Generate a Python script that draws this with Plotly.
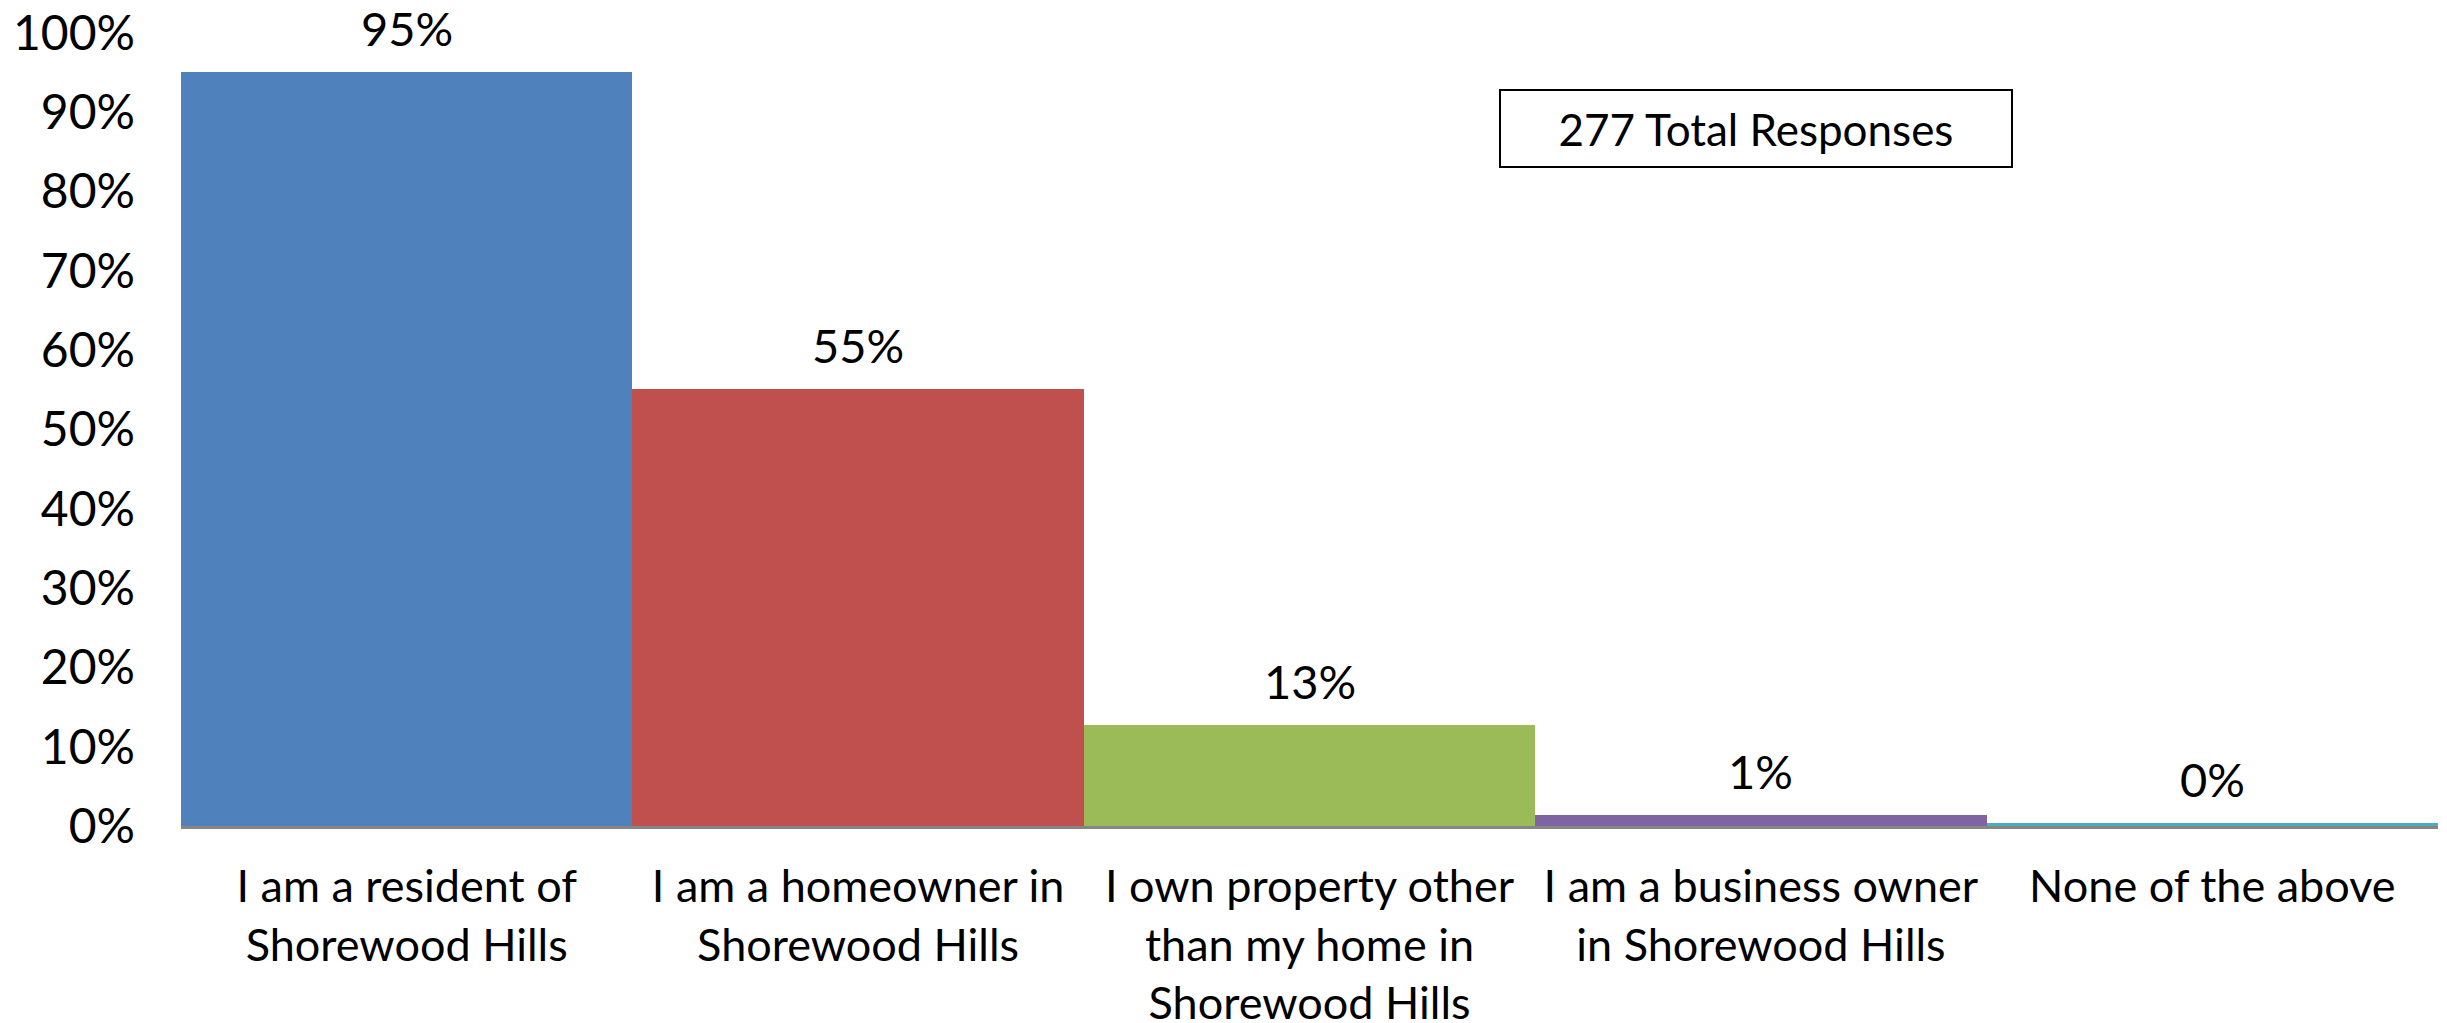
import plotly.graph_objects as go

# Survey: relationship of respondents to Shorewood Hills (share of 277 responses)
categories = [
    "I am a resident of<br>Shorewood Hills",
    "I am a homeowner in<br>Shorewood Hills",
    "I own property other<br>than my home in<br>Shorewood Hills",
    "I am a business owner<br>in Shorewood Hills",
    "None of the above",
]
shares = [0.951, 0.551, 0.128, 0.014, 0.004]
bar_colors = ["#4F81BD", "#C0504D", "#9BBB59", "#8064A2", "#4BACC6"]
y_ticks = [i / 10 for i in range(11)]
y_tick_labels = [f"{i * 10}%" for i in range(11)]
total_note = "277 Total Responses"

FONT = "Lato"

fig = go.Figure(
    go.Bar(
        x=categories,
        y=shares,
        marker=dict(color=bar_colors, line=dict(width=0)),
        hoverinfo="skip",
    )
)

# Percentage labels above each bar, formatted from the bar's own value
for cat, val in zip(categories, shares):
    fig.add_annotation(
        x=cat, y=val, xref="x", yref="y",
        text=f"{round(val * 100)}%",
        showarrow=False, yanchor="middle", yshift=44,
        font=dict(family=FONT, size=47, color="#000000"),
    )

# Boxed note with the response count
fig.add_annotation(
    x=0.698, y=0.879, xref="paper", yref="paper",
    text=total_note, showarrow=False,
    xanchor="center", yanchor="middle",
    width=500, height=65, borderpad=5,
    bordercolor="#000000", borderwidth=2, bgcolor="#FFFFFF",
    font=dict(family=FONT, size=44, color="#000000"),
)

fig.update_layout(
    width=2447, height=1023,
    margin=dict(l=181, r=9, t=33, b=197),
    paper_bgcolor="#FFFFFF", plot_bgcolor="#FFFFFF",
    bargap=0,
    showlegend=False,
    font=dict(family=FONT, size=45, color="#000000"),
)
fig.update_xaxes(
    automargin=False,
    showgrid=False, zeroline=False,
    showline=True, linecolor="#868686", linewidth=3,
    ticks="", ticklabelstandoff=19,
    tickfont=dict(family=FONT, size=45),
)
fig.update_yaxes(
    automargin=False,
    range=[0, 1], tickvals=y_ticks, ticktext=y_tick_labels,
    showgrid=False, zeroline=False, showline=False,
    ticks="", ticklabelstandoff=45,
    tickfont=dict(family=FONT, size=48),
)

fig.write_html("out.html")
